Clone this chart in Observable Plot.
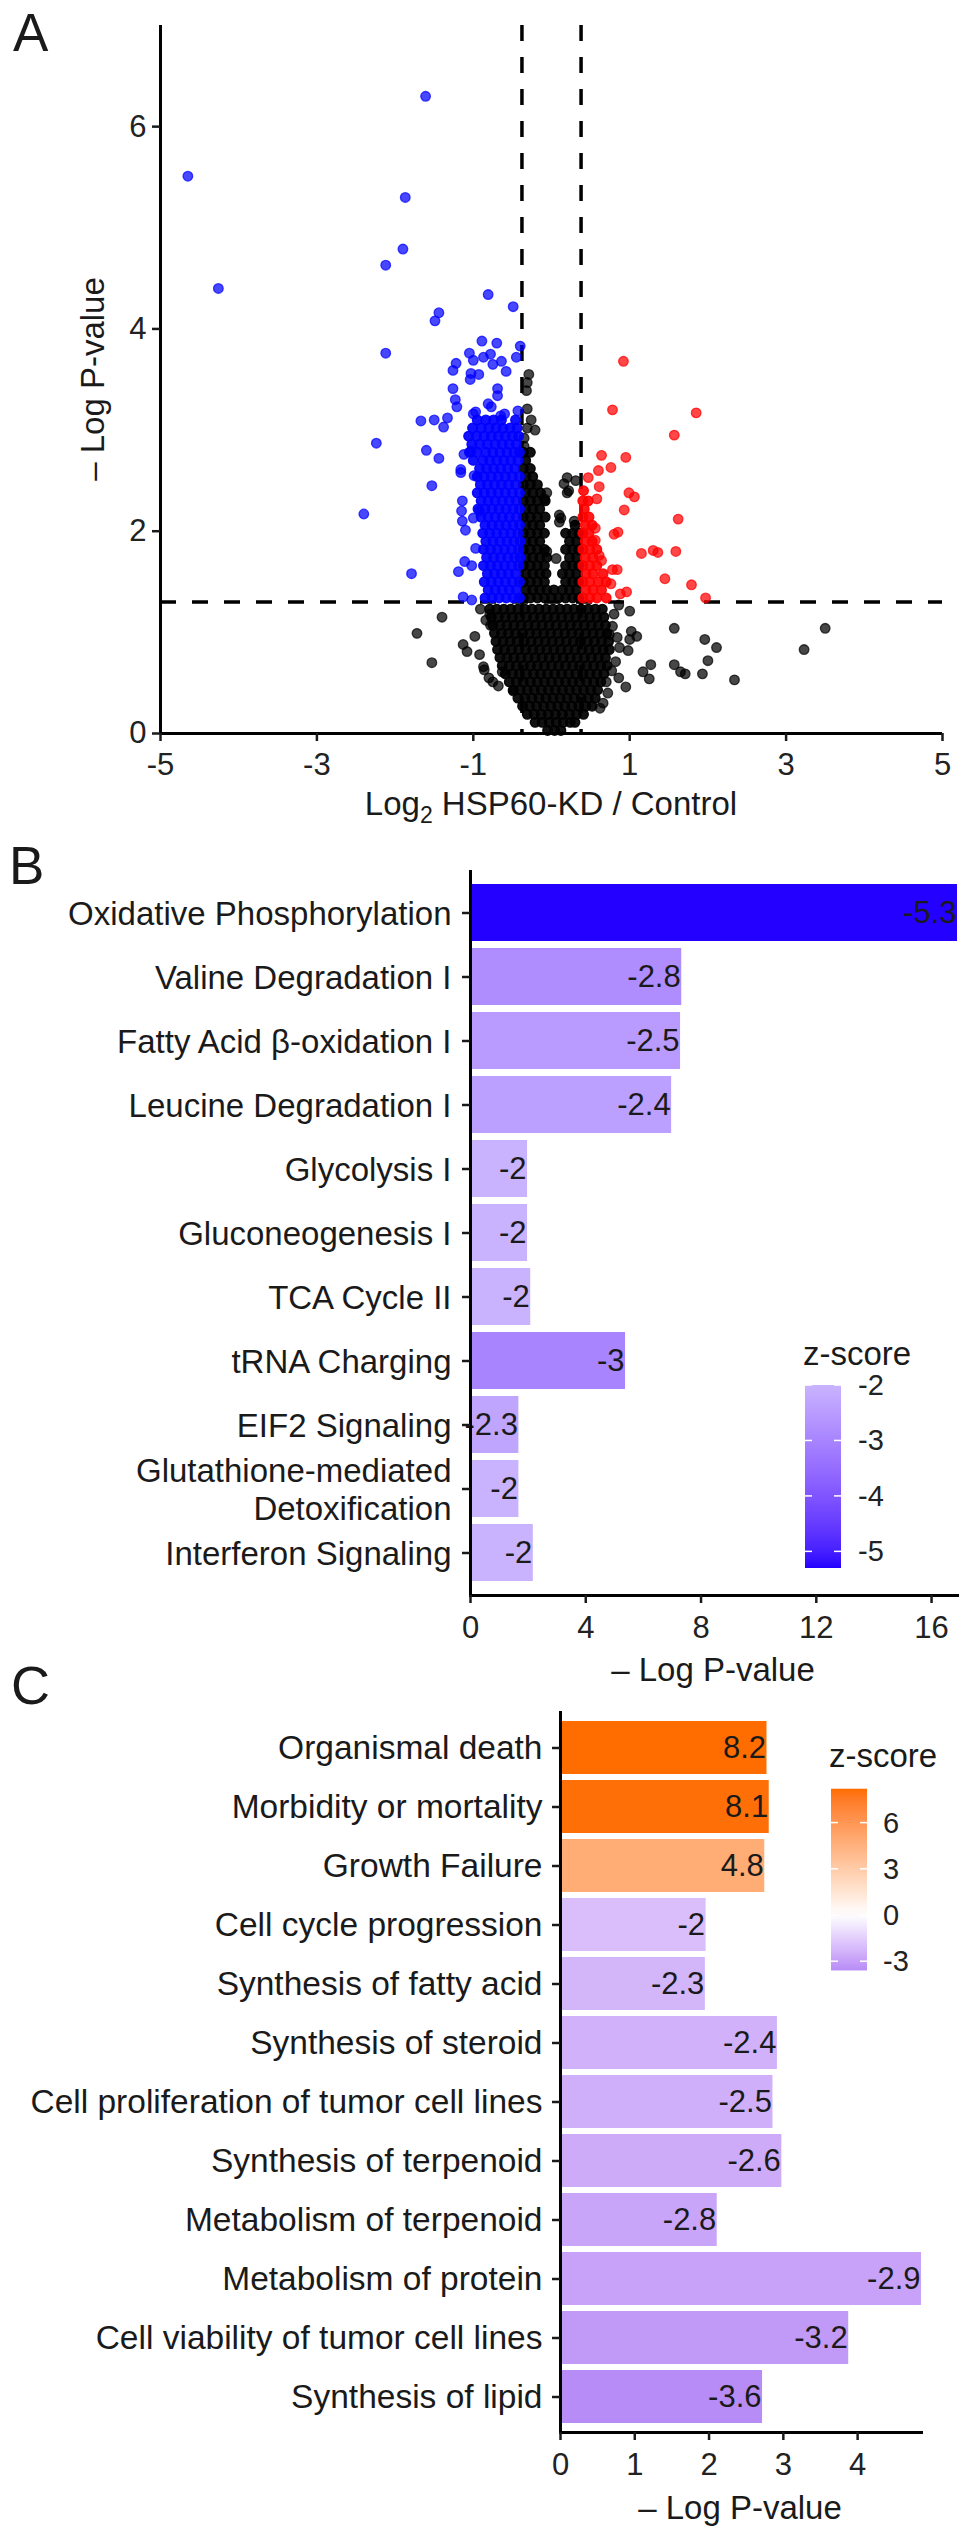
<!DOCTYPE html>
<html>
<head>
<meta charset="utf-8">
<script src="https://cdn.jsdelivr.net/npm/d3@7"></script>
<script src="https://cdn.jsdelivr.net/npm/@observablehq/plot@0.6"></script>
<style>
html, body { margin: 0; padding: 0; background: #fff; }
#wrap { position: relative; width: 969px; height: 2537px; overflow: hidden; }
.panel { position: absolute; left: 0; width: 969px; }
.panel svg { overflow: visible; display: block; }
</style>
</head>
<body>
<div id="wrap">
  <div id="pa" class="panel" style="top:0px"></div>
  <div id="pb" class="panel" style="top:820px"></div>
  <div id="pc" class="panel" style="top:1690px"></div>
</div>
<script>
const FONT = "'Liberation Sans', Arial, Helvetica, sans-serif";
const INK = "#1a1a1a";

// ---------------- Panel A: volcano plot ----------------
const volcanoXTicks = [-5, -3, -1, 1, 3, 5];
const volcanoYTicks = [0, 2, 4, 6];
const fcCut = 0.378;   // |log2 FC| threshold
const pCut = 1.301;    // -log10(0.05)

// down-regulated (blue) scattered points [log2FC, -logP]
const blueScatter = [
  [-4.65,5.51],[-4.26,4.40],[-1.61,6.30],[-1.87,5.30],[-1.90,4.79],[-2.12,4.63],[-0.81,4.34],[-0.49,4.22],
  [-1.44,4.16],[-1.49,4.08],[-2.12,3.76],[-0.89,3.88],[-0.70,3.86],[-0.40,3.83],[-1.05,3.76],[-1.00,3.69],
  [-0.87,3.72],[-0.78,3.75],[-0.75,3.65],[-0.64,3.68],[-0.58,3.58],[-0.45,3.72],[-1.22,3.66],[-1.26,3.59],
  [-1.03,3.56],[-0.93,3.55],[-1.26,3.41],[-0.69,3.41],[-0.69,3.34],[-1.23,3.30],[-1.21,3.23],[-0.97,3.18],
  [-0.81,3.26],[-0.77,3.23],[-0.65,3.14],[-0.60,3.16],[-0.43,3.19],[-1.67,3.09],[-1.50,3.10],[-1.38,3.03],
  [-1.33,3.12],[-2.24,2.87],[-1.60,2.80],[-1.44,2.72],[-1.16,2.61],[-1.53,2.45],[-2.40,2.17],[-1.79,1.58],
  [-1.13,1.35],[-1.02,1.32],[-1.19,1.60],[-1.11,1.70],[-1.02,1.66],[-1.14,2.30],[-1.15,2.20],[-1.14,2.10],
  [-1.10,2.01],[-1.00,2.13],[-0.92,2.20],[-0.97,1.83],[-0.99,2.55],[-1.03,2.79],[-1.16,2.58],[-1.12,2.76],
  [-1.00,3.16],[-1.04,3.50]
];
// dense down-regulated band: [-logP, [log2FC ...]]
const blueCoreRows = [
  [1.34, [-0.85,-0.76,-0.67,-0.58,-0.49,-0.41]],
  [1.42, [-0.81,-0.72,-0.63,-0.54,-0.45]],
  [1.50, [-0.86,-0.77,-0.68,-0.59,-0.50,-0.41]],
  [1.58, [-0.82,-0.73,-0.64,-0.55,-0.46]],
  [1.66, [-0.87,-0.78,-0.69,-0.60,-0.51,-0.42]],
  [1.74, [-0.83,-0.74,-0.65,-0.56,-0.47,-0.40]],
  [1.82, [-0.87,-0.78,-0.69,-0.60,-0.51,-0.42]],
  [1.90, [-0.84,-0.75,-0.66,-0.57,-0.48,-0.40]],
  [1.98, [-0.88,-0.79,-0.70,-0.61,-0.52,-0.43]],
  [2.06, [-0.85,-0.76,-0.67,-0.58,-0.49,-0.41]],
  [2.14, [-0.90,-0.81,-0.72,-0.63,-0.54,-0.45]],
  [2.22, [-0.94,-0.85,-0.76,-0.67,-0.58,-0.49,-0.41]],
  [2.30, [-0.90,-0.81,-0.72,-0.63,-0.54,-0.45]],
  [2.38, [-0.95,-0.86,-0.77,-0.68,-0.59,-0.50,-0.41]],
  [2.46, [-0.91,-0.82,-0.73,-0.64,-0.55,-0.46]],
  [2.54, [-0.95,-0.86,-0.77,-0.68,-0.59,-0.50,-0.41]],
  [2.62, [-0.92,-0.83,-0.74,-0.65,-0.56,-0.47]],
  [2.70, [-1.00,-0.88,-0.79,-0.70,-0.61,-0.52,-0.43]],
  [2.78, [-1.05,-0.95,-0.84,-0.75,-0.66,-0.57,-0.48,-0.41]],
  [2.86, [-1.02,-0.92,-0.82,-0.72,-0.63,-0.54,-0.45]],
  [2.94, [-1.06,-0.96,-0.86,-0.77,-0.68,-0.59,-0.50,-0.42]],
  [3.02, [-1.01,-0.90,-0.80,-0.71,-0.62,-0.53,-0.44]],
  [3.10, [-0.95,-0.84,-0.74,-0.64,-0.46]]
];
// up-regulated (red) scattered points
const redScatter = [
  [0.92,3.68],[0.78,3.20],[1.85,3.17],[1.57,2.95],[0.64,2.75],[0.95,2.73],[0.76,2.63],[0.60,2.60],
  [0.47,2.53],[0.61,2.44],[0.99,2.38],[1.06,2.34],[0.58,2.32],[0.93,2.21],[1.62,2.12],[0.85,1.99],
  [0.80,1.97],[0.56,2.03],[0.56,1.91],[1.15,1.78],[1.30,1.81],[1.36,1.79],[1.59,1.80],[0.61,1.76],
  [0.64,1.71],[0.78,1.62],[0.84,1.62],[1.45,1.53],[1.79,1.47],[0.76,1.48],[1.97,1.34],[0.96,1.40],[0.88,1.38]
];
const redCoreRows = [
  [1.34, [0.40,0.49,0.58,0.70]],
  [1.42, [0.44,0.53,0.64]],
  [1.50, [0.40,0.49,0.60,0.70]],
  [1.58, [0.44,0.53,0.66]],
  [1.66, [0.40,0.49,0.58]],
  [1.74, [0.43,0.53]],
  [1.82, [0.40,0.49,0.58]],
  [1.90, [0.43,0.52]],
  [1.98, [0.40,0.48]],
  [2.06, [0.43,0.52]],
  [2.14, [0.40,0.48]],
  [2.22, [0.42]],
  [2.30, [0.40,0.47]],
  [2.40, [0.41]]
];
// not significant (black) scattered points
const blackScatter = [
  [-1.40,1.15],[-1.72,0.99],[-1.53,0.70],[-1.13,0.88],[-0.98,0.96],[-1.08,0.81],[-0.91,1.23],[-0.86,0.63],
  [-0.79,1.18],[-0.78,1.07],[-0.75,0.51],[-0.68,0.47],[-0.63,0.61],[-0.49,0.42],[-0.92,0.78],[-0.87,0.66],
  [-0.80,0.55],[-0.84,1.12],
  [1.57,1.04],[1.96,0.93],[2.11,0.85],[2.00,0.72],[1.93,0.59],[2.34,0.53],[1.57,0.68],[1.65,0.61],
  [1.71,0.59],[1.27,0.68],[1.17,0.61],[1.25,0.54],[3.23,0.83],[3.50,1.04],
  [1.00,1.21],[0.86,1.27],[1.02,1.01],[1.09,0.96],[1.00,0.93],[0.87,0.85],[0.98,0.82],[0.82,0.71],
  [0.86,0.55],[0.95,0.46],[0.74,0.98],[0.62,0.25],[0.70,0.51],[0.80,1.18],[0.78,1.06],[0.84,0.95],
  [0.72,0.40],[0.66,0.30],[0.77,0.62],
  [-0.35,2.84],[-0.35,2.92],[-0.31,3.02],[-0.21,3.00],[-0.26,3.10],[-0.31,3.21],[-0.32,3.39],[-0.31,3.47],[-0.29,3.55],
  [-0.06,2.38],[-0.06,1.80],[0.06,1.73],[0.10,2.16],[0.10,2.09],[-0.09,2.32],[0.16,2.47],[0.20,2.53],
  [0.22,2.40],[0.31,2.50],[0.20,2.38],[0.12,2.13],[0.29,2.10]
];
// dense not-significant core: [-logP, [log2FC ...]]
const blackCoreRows = [
  [0.03, [-0.05,0.04,0.12]],
  [0.11, [-0.21,-0.12,-0.03,0.06,0.15,0.24,0.30]],
  [0.19, [-0.31,-0.22,-0.13,-0.04,0.05,0.14,0.23,0.32,0.41]],
  [0.27, [-0.37,-0.28,-0.19,-0.10,-0.01,0.08,0.17,0.26,0.35,0.44,0.52]],
  [0.35, [-0.43,-0.34,-0.25,-0.16,-0.07,0.02,0.11,0.20,0.29,0.38,0.47,0.56]],
  [0.43, [-0.49,-0.40,-0.31,-0.22,-0.13,-0.04,0.05,0.14,0.23,0.32,0.41,0.50,0.59]],
  [0.51, [-0.54,-0.45,-0.36,-0.27,-0.18,-0.09,0.00,0.09,0.18,0.27,0.36,0.45,0.54,0.63]],
  [0.59, [-0.59,-0.50,-0.41,-0.32,-0.23,-0.14,-0.05,0.04,0.13,0.22,0.31,0.40,0.49,0.58,0.67]],
  [0.67, [-0.63,-0.54,-0.45,-0.36,-0.27,-0.18,-0.09,0.00,0.09,0.18,0.27,0.36,0.45,0.54,0.63,0.71]],
  [0.75, [-0.66,-0.57,-0.48,-0.39,-0.30,-0.21,-0.12,-0.03,0.06,0.15,0.24,0.33,0.42,0.51,0.60,0.69]],
  [0.83, [-0.69,-0.60,-0.51,-0.42,-0.33,-0.24,-0.15,-0.06,0.03,0.12,0.21,0.30,0.39,0.48,0.57,0.66,0.74]],
  [0.91, [-0.71,-0.62,-0.53,-0.44,-0.35,-0.26,-0.17,-0.08,0.01,0.10,0.19,0.28,0.37,0.46,0.55,0.64,0.73]],
  [0.99, [-0.73,-0.64,-0.55,-0.46,-0.37,-0.28,-0.19,-0.10,-0.01,0.08,0.17,0.26,0.35,0.44,0.53,0.62,0.71]],
  [1.07, [-0.75,-0.66,-0.57,-0.48,-0.39,-0.30,-0.21,-0.12,-0.03,0.06,0.15,0.24,0.33,0.42,0.51,0.60,0.69]],
  [1.15, [-0.77,-0.68,-0.59,-0.50,-0.41,-0.32,-0.23,-0.14,-0.05,0.04,0.13,0.22,0.31,0.40,0.49,0.58,0.67]],
  [1.23, [-0.79,-0.70,-0.61,-0.52,-0.43,-0.34,-0.25,-0.16,-0.07,0.02,0.11,0.20,0.29,0.38,0.47,0.56,0.65]],
  // arms between the fold-change cut lines, above the p cut
  [1.34, [-0.36,-0.27,-0.18,-0.09,0.00,0.09,0.18,0.27,0.35]],
  [1.42, [-0.33,-0.24,-0.15,-0.06,0.03,0.14,0.23,0.32]],
  [1.50, [-0.36,-0.27,-0.18,-0.09,0.18,0.27,0.35]],
  [1.58, [-0.33,-0.24,-0.15,-0.07,0.14,0.23,0.32]],
  [1.66, [-0.36,-0.27,-0.18,-0.09,0.18,0.27,0.35]],
  [1.74, [-0.33,-0.24,-0.15,-0.06,0.23,0.32]],
  [1.82, [-0.36,-0.27,-0.18,-0.09,0.18,0.27,0.35]],
  [1.90, [-0.33,-0.24,-0.15,0.23,0.32]],
  [1.98, [-0.36,-0.27,-0.18,-0.09,0.18,0.27,0.35]],
  [2.06, [-0.33,-0.24,-0.15,0.30]],
  [2.14, [-0.36,-0.27,-0.18,-0.08]],
  [2.22, [-0.33,-0.24,-0.15]],
  [2.30, [-0.36,-0.27,-0.18,-0.08]],
  [2.38, [-0.33,-0.24,-0.14]],
  [2.46, [-0.36,-0.27,-0.18]],
  [2.54, [-0.33,-0.24]],
  [2.62, [-0.36,-0.27]],
  [2.70, [-0.33]],
  [2.78, [-0.36,-0.27]]
];

const fromRows = rows => rows.flatMap(([y, xs]) => xs.map(x => [x, y]));
const blackCore = fromRows(blackCoreRows);
const blueCore = fromRows(blueCoreRows);
const redCore = fromRows(redCoreRows);

// ---------------- Panel B: canonical pathways ----------------
const pathways = ["Oxidative Phosphorylation", "Valine Degradation I", "Fatty Acid β-oxidation I",
  "Leucine Degradation I", "Glycolysis I", "Gluconeogenesis I", "TCA Cycle II", "tRNA Charging",
  "EIF2 Signaling", "Glutathione-mediated\nDetoxification", "Interferon Signaling"];
const pathwayLogP = [16.9, 7.33, 7.29, 6.98, 1.98, 1.98, 2.09, 5.38, 1.68, 1.68, 2.18];
const pathwayZ = [-5.3, -2.8, -2.5, -2.4, -2, -2, -2, -3, -2.3, -2, -2];
const pathwayXTicks = [0, 4, 8, 12, 16];
const pathwayLegendTicks = [-2, -3, -4, -5];
const pathwayColors = ["#2300ff", "#c9b3ff"];

// ---------------- Panel C: diseases & functions ----------------
const functionsC = ["Organismal death", "Morbidity or mortality", "Growth Failure", "Cell cycle progression",
  "Synthesis of fatty acid", "Synthesis of steroid", "Cell proliferation of tumor cell lines",
  "Synthesis of terpenoid", "Metabolism of terpenoid", "Metabolism of protein",
  "Cell viability of tumor cell lines", "Synthesis of lipid"];
const functionLogP = [2.78, 2.81, 2.75, 1.96, 1.95, 2.92, 2.86, 2.98, 2.11, 4.86, 3.88, 2.72];
const functionZ = [8.2, 8.1, 4.8, -2, -2.3, -2.4, -2.5, -2.6, -2.8, -2.9, -3.2, -3.6];
const functionXTicks = [0, 1, 2, 3, 4];
const functionLegendTicks = [6, 3, 0, -3];
const functionColors = ["#b88cf6", "#ffffff", "#ff6d00"];

// ---------------- helpers ----------------
const fmt = d => String(d);
function addText(svg, {x, y, text, size, anchor = "middle", rotate = 0, baseline = null, fill = INK}) {
  const t = d3.select(svg).append("text")
    .attr("font-family", FONT).attr("font-size", size).attr("fill", fill)
    .attr("text-anchor", anchor)
    .attr("transform", `translate(${x},${y})` + (rotate ? ` rotate(${rotate})` : ""));
  if (baseline) t.attr("dominant-baseline", baseline);
  t.text(text);
  return t;
}

function colorbar(svg, {id, scale, x, w, vTop, vBottom, yTop, yBottom, ticks, title, titleX, titleY, labelX}) {
  const s = d3.select(svg);
  const y = d3.scaleLinear([vTop, vBottom], [yTop, yBottom]);
  const grad = s.append("defs").append("linearGradient").attr("id", id)
    .attr("x1", 0).attr("y1", 0).attr("x2", 0).attr("y2", 1);
  for (let i = 0; i <= 24; i++) {
    const t = i / 24;
    grad.append("stop").attr("offset", t).attr("stop-color", scale(vTop + (vBottom - vTop) * t));
  }
  s.append("rect").attr("x", x).attr("y", yTop).attr("width", w).attr("height", yBottom - yTop)
    .attr("fill", `url(#${id})`);
  for (const v of ticks) {
    const yy = y(v);
    s.append("line").attr("x1", x).attr("x2", x + 7).attr("y1", yy).attr("y2", yy)
      .attr("stroke", "#fff").attr("stroke-width", 1.5);
    s.append("line").attr("x1", x + w - 7).attr("x2", x + w).attr("y1", yy).attr("y2", yy)
      .attr("stroke", "#fff").attr("stroke-width", 1.5);
    addText(svg, {x: labelX, y: yy, text: String(v), size: 29, anchor: "start", baseline: "central", fill: "#222"});
  }
  addText(svg, {x: titleX, y: titleY, text: title, size: 33, anchor: "start", baseline: "central"});
}

const dotStyle = (c, a) => ({r: 4.8, fill: c, fillOpacity: a, stroke: c, strokeOpacity: a, strokeWidth: 1.3});
const xy = {x: d => d[0], y: d => d[1]};

// ---------------- Panel A ----------------
const chartA = Plot.plot({
  width: 969, height: 820,
  marginLeft: 160, marginRight: 27, marginTop: 25, marginBottom: 87,
  x: {domain: [-5, 5]},
  y: {domain: [0, 7]},
  style: {fontFamily: FONT, background: "transparent", color: INK, overflow: "visible"},
  marks: [
    Plot.ruleY([pCut], {stroke: "#000", strokeWidth: 3.5, strokeDasharray: "16,16"}),
    Plot.ruleX([-fcCut, fcCut], {stroke: "#000", strokeWidth: 3.5, strokeDasharray: "16,16"}),
    Plot.dot(blackCore, {...xy, ...dotStyle("#000000", 0.93)}),
    Plot.dot(blackScatter, {...xy, ...dotStyle("#000000", 0.72)}),
    Plot.dot(blueCore, {...xy, ...dotStyle("#0000ff", 0.93)}),
    Plot.dot(blueScatter, {...xy, ...dotStyle("#0000ff", 0.72)}),
    Plot.dot(redCore, {...xy, ...dotStyle("#ff0000", 0.9)}),
    Plot.dot(redScatter, {...xy, ...dotStyle("#ff0000", 0.72)}),
    Plot.ruleX([-5], {stroke: "#000", strokeWidth: 3}),
    Plot.ruleY([0], {stroke: "#000", strokeWidth: 3}),
    Plot.axisX({ticks: volcanoXTicks, tickFormat: fmt, tickSize: 8, tickPadding: 11, fontSize: 31, label: null, strokeWidth: 2.5, fill: "#222"}),
    Plot.axisY({ticks: volcanoYTicks, tickFormat: fmt, tickSize: 8, tickPadding: 6, fontSize: 31, label: null, strokeWidth: 2.5, fill: "#222"})
  ]
});
document.getElementById("pa").append(chartA);
addText(chartA, {x: 13, y: 51, text: "A", size: 53, anchor: "start"});
addText(chartA, {x: 104, y: 379, text: "– Log P-value", size: 33, rotate: -90});
{
  const t = d3.select(chartA).append("text").attr("font-family", FONT).attr("font-size", 33)
    .attr("fill", INK).attr("text-anchor", "middle").attr("x", 551).attr("y", 815);
  t.append("tspan").text("Log");
  t.append("tspan").attr("font-size", 23).attr("dy", 8).text("2");
  t.append("tspan").attr("dy", -8).text(" HSP60-KD / Control");
}

// ---------------- Panel B ----------------
const dataB = pathways.map((name, i) => ({name, p: pathwayLogP[i], z: pathwayZ[i]}));
const colorB = d3.scaleLinear([d3.min(pathwayZ), d3.max(pathwayZ)], pathwayColors).interpolate(d3.interpolateLab);
const chartB = Plot.plot({
  width: 969, height: 870,
  marginLeft: 470, marginRight: 12, marginTop: 50, marginBottom: 95,
  x: {domain: [0, d3.max(pathwayLogP)]},
  y: {domain: pathways, paddingInner: 0.105, paddingOuter: 0.147},
  color: {type: "linear", domain: [d3.min(pathwayZ), d3.max(pathwayZ)], range: pathwayColors, interpolate: d3.interpolateLab},
  style: {fontFamily: FONT, background: "transparent", color: INK, overflow: "visible"},
  marks: [
    Plot.barX(dataB, {x: "p", y: "name", fill: "z"}),
    Plot.text(dataB, {x: "p", y: "name", text: d => String(d.z), textAnchor: "end", dx: -1, fontSize: 31, fill: INK}),
    Plot.ruleX([0], {stroke: "#000", strokeWidth: 3}),
    Plot.frame({anchor: "bottom", stroke: "#000", strokeWidth: 3}),
    Plot.axisY({tickSize: 8, tickPadding: 11, fontSize: 33, label: null, strokeWidth: 2.5, lineHeight: 1.15}),
    Plot.axisX({ticks: pathwayXTicks, tickFormat: fmt, tickSize: 8, tickPadding: 12, fontSize: 31, label: null, strokeWidth: 2.5, fill: "#222"})
  ]
});
document.getElementById("pb").append(chartB);
addText(chartB, {x: 9, y: 64, text: "B", size: 53, anchor: "start"});
addText(chartB, {x: 713, y: 861, text: "– Log P-value", size: 33});
colorbar(chartB, {id: "gb", scale: colorB, x: 805, w: 36, vTop: -2, vBottom: -5.3, yTop: 565, yBottom: 748,
  ticks: pathwayLegendTicks, title: "z-score", titleX: 803, titleY: 533, labelX: 858});

// ---------------- Panel C ----------------
const dataC = functionsC.map((name, i) => ({name, p: functionLogP[i], z: functionZ[i]}));
const zDomC = [d3.min(functionZ), 0, d3.max(functionZ)];
const colorC = d3.scaleLinear(zDomC, functionColors).interpolate(d3.interpolateLab);
const chartC = Plot.plot({
  width: 969, height: 847,
  marginLeft: 560, marginRight: 48, marginTop: 21, marginBottom: 105,
  x: {domain: [0, d3.max(functionLogP)]},
  y: {domain: functionsC, paddingInner: 0.11, paddingOuter: 0.104},
  color: {type: "linear", domain: zDomC, range: functionColors, interpolate: d3.interpolateLab},
  style: {fontFamily: FONT, background: "transparent", color: INK, overflow: "visible"},
  marks: [
    Plot.barX(dataC, {x: "p", y: "name", fill: "z"}),
    Plot.text(dataC, {x: "p", y: "name", text: d => String(d.z), textAnchor: "end", dx: -1, fontSize: 31, fill: INK}),
    Plot.ruleX([0], {stroke: "#000", strokeWidth: 3}),
    Plot.frame({anchor: "bottom", stroke: "#000", strokeWidth: 3}),
    Plot.axisY({tickSize: 8, tickPadding: 10, fontSize: 33.5, label: null, strokeWidth: 2.5}),
    Plot.axisX({ticks: functionXTicks, tickFormat: fmt, tickSize: 8, tickPadding: 12, fontSize: 31, label: null, strokeWidth: 2.5, fill: "#222"})
  ]
});
document.getElementById("pc").append(chartC);
addText(chartC, {x: 11, y: 14, text: "C", size: 54, anchor: "start"});
addText(chartC, {x: 740, y: 829, text: "– Log P-value", size: 33});
colorbar(chartC, {id: "gc", scale: colorC, x: 831, w: 36, vTop: 8.2, vBottom: -3.6, yTop: 225 - 15.4 * 8.2, yBottom: 225 + 15.4 * 3.6,
  ticks: functionLegendTicks, title: "z-score", titleX: 829, titleY: 65, labelX: 883});
</script>
</body>
</html>
